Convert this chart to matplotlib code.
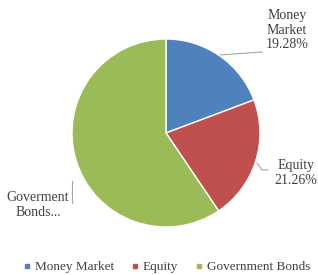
import matplotlib
matplotlib.use("Agg")
import matplotlib.pyplot as plt

categories = ["Money Market", "Equity", "Government Bonds"]
values = [19.28, 21.26, 59.46]
label_texts = ["Money\nMarket\n19.28%", "Equity\n21.26%", "Goverment\nBonds..."]
colors = ["#4F81BD", "#C0504D", "#9BBB59"]

plt.rcParams['font.family'] = ['Liberation Serif', 'DejaVu Serif']

fig = plt.figure(figsize=(3.18, 2.75), dpi=100)
ax = fig.add_axes([0, 0, 1, 1])
ax.set_xlim(0, 318)
ax.set_ylim(275, 0)
ax.axis('off')

cx, cy, r = 166, 133, 94
pax = fig.add_axes([(cx - r) / 318, 1 - (cy + r) / 275, 2 * r / 318, 2 * r / 275])
wedges, _ = pax.pie(values, colors=colors, startangle=90, counterclock=False,
                    wedgeprops=dict(edgecolor='white', linewidth=1))
pax.set_aspect('auto')
pax.set_xlim(-1, 1)
pax.set_ylim(-1, 1)

txt = dict(fontsize=10, color='#404040', ha='center', va='center', linespacing=1.15)
ax.text(287, 30, label_texts[0], **txt)
ax.text(296, 173, label_texts[1], **txt)
ax.text(38, 205, label_texts[2], **txt)

lc = dict(color='#A6A6A6', lw=0.8)
ax.plot([219, 262], [55, 52], **lc)
ax.plot([257, 262, 268], [163, 170, 170], **lc)
ax.plot([72, 72], [181, 203], **lc)

handles = [plt.Line2D([], [], marker='s', ls='', color=c, markersize=3.5) for c in colors]
ax.legend(handles, categories, loc='center', bbox_to_anchor=(166 / 318, 1 - 267 / 275),
          ncol=3, frameon=False, fontsize=9.5, handletextpad=0.2, columnspacing=1.2,
          handlelength=0.8, labelcolor='#404040', borderpad=0.1)

fig.savefig("out.png", dpi=100)
